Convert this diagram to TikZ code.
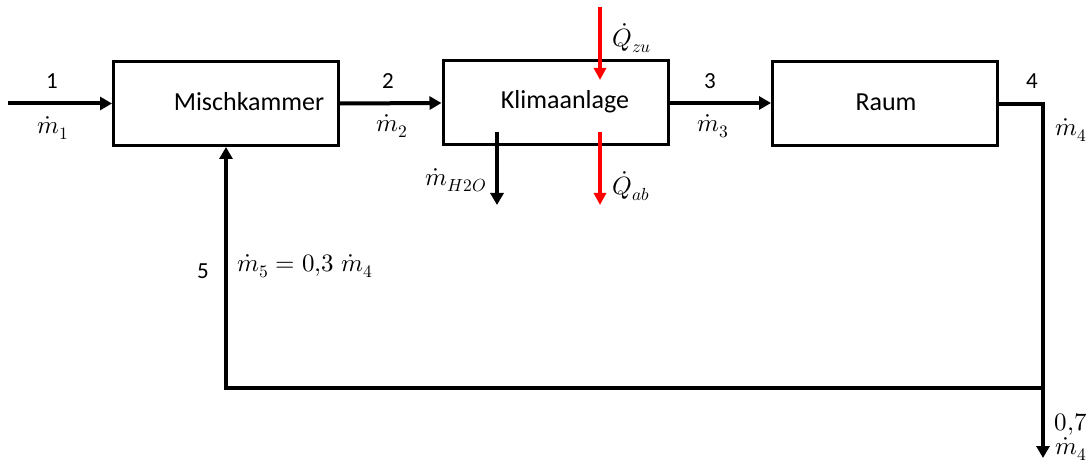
\documentclass[tikz,border=0pt]{standalone}
\usepackage{fontspec}
\usepackage{unicode-math}
\setmainfont{Carlito}
\setmathfont{Latin Modern Math}
\usetikzlibrary{arrows.meta}
\newcommand{\lblsize}{\fontsize{23}{27}\selectfont}
\newcommand{\mthsize}{\fontsize{25}{30}\selectfont}
\tikzset{
  box/.style={draw=black, line width=3pt, minimum width=225pt, minimum height=84pt, inner sep=0pt},
  boxtext/.style={font=\fontsize{26}{31}\selectfont, inner sep=0pt},
  lbl/.style={inner sep=0pt, font=\lblsize},
  mth/.style={inner sep=0pt, font=\mthsize},
  flow/.style={line width=4pt, -{Triangle[length=12pt,width=13pt]}},
  heat/.style={line width=3.3pt, draw=red, -{Triangle[length=12pt,width=12pt]}, red}
}
\begin{document}
\begin{tikzpicture}[x=1pt,y=-1pt]
\useasboundingbox (0,0) rectangle (1090,462);
\node[box] (mk) at (226,103.5) {};
\node[box] (ka) at (555.5,103) {};
\node[box] (ra) at (885,104) {};
\node[boxtext] (mkt) at (249,102) {Mischkammer};
\node[boxtext] (kat) at (565,102) {Klimaanlage};
\node[boxtext] (rat) at (886,102) {Raum};
\coordinate (in1) at (8,103.5);
\coordinate (out7) at (1043,458);
\coordinate (cj) at (1043,388);
\coordinate (qzu1) at (600,7);
\coordinate (qzu2) at (600,80);
\coordinate (qab1) at (600,132);
\coordinate (qab2) at (600,205);
\coordinate (w1) at (497,132);
\coordinate (w2) at (497,205);
\draw[flow] (in1) -- (mk.west);
\draw[flow] (mk.east) -- (ka.west);
\draw[flow] (ka.east) -- (ra.west |- ka.east);
\draw[flow] (ra.east) -| (out7);
\draw[flow] (cj) -| (mk.south);
\draw[flow] (w1) -- (w2);
\draw[heat] (qzu1) -- (qzu2);
\draw[heat] (qab1) -- (qab2);
\node[lbl] (l1) at (52,81) {1};
\node[mth] (m1) at (53,128) {$\dot{m}_1$};
\node[lbl] (l2) at (388,81) {2};
\node[mth] (m2) at (392,126) {$\dot{m}_2$};
\node[lbl] (l3) at (710,81) {3};
\node[mth] (m3) at (713,126) {$\dot{m}_3$};
\node[lbl] (l4) at (1032,81) {4};
\node[mth] (m4) at (1071,130) {$\dot{m}_4$};
\node[mth] (qzu) at (632,38) {$\dot{Q}_{zu}$};
\node[mth] (qab) at (631,186) {$\dot{Q}_{ab}$};
\node[mth] (mw) at (456,180) {$\dot{m}_{H2O}$};
\node[lbl] (l5) at (203,271) {5};
\node[mth] (m5) at (305,266) {$\dot{m}_5 = 0{,}3\;\dot{m}_4$};
\node[mth] (l7) at (1071,424) {$0{,}7$};
\node[mth] (m7) at (1071,449) {$\dot{m}_4$};
\end{tikzpicture}
\end{document}
